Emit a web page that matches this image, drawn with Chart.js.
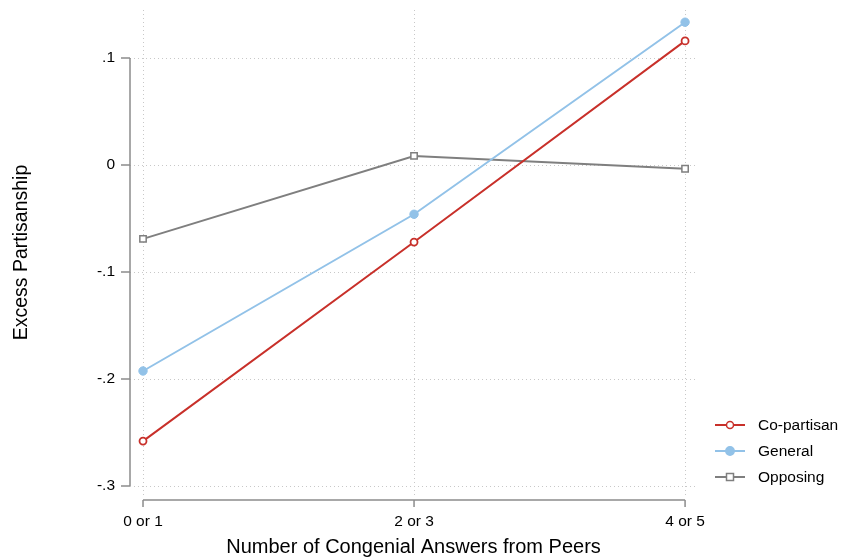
<!DOCTYPE html>
<html><head><meta charset="utf-8">
<script src="https://cdn.jsdelivr.net/npm/chart.js@4.4.1/dist/chart.umd.min.js"></script>
<style>html,body{margin:0;padding:0;background:#fff}#wrap{width:846px;height:558px}</style>
</head><body><div id="wrap"><canvas id="c" width="846" height="558"></canvas></div>
<script>
const categories = ["0 or 1", "2 or 3", "4 or 5"];
const coPartisan = [-0.258, -0.072, 0.116];
const general = [-0.1925, -0.046, 0.1335];
const opposing = [-0.069, 0.0085, -0.0035];
const yTicks = [0.1, 0, -0.1, -0.2, -0.3];
const yTickLabels = [".1", "0", "-.1", "-.2", "-.3"];
const seriesNames = ["Co-partisan", "General", "Opposing"];

const FONT = "'Liberation Sans', Arial, Helvetica, sans-serif";
const RED = '#c8302a', BLUE = '#92c2e8', GRAY = '#7f7f7f';

const toPts = arr => arr.map((v, i) => ({x: i, y: v}));

const axesPlugin = {
  id: 'stataAxes',
  afterDraw(chart) {
    const ctx = chart.ctx, xs = chart.scales.x, ys = chart.scales.y;
    ctx.save();
    ctx.strokeStyle = '#8c8c8c'; ctx.lineWidth = 1.5;
    const ax = chart.chartArea.left;
    ctx.beginPath();
    ctx.moveTo(ax, ys.getPixelForValue(yTicks[0]));
    ctx.lineTo(ax, ys.getPixelForValue(yTicks[yTicks.length-1]));
    yTicks.forEach(t => { const p = ys.getPixelForValue(t); ctx.moveTo(ax - 9, p); ctx.lineTo(ax, p); });
    const ay = chart.chartArea.bottom + 5;
    ctx.moveTo(xs.getPixelForValue(0), ay);
    ctx.lineTo(xs.getPixelForValue(categories.length-1), ay);
    categories.forEach((c, i) => { const p = xs.getPixelForValue(i); ctx.moveTo(p, ay); ctx.lineTo(p, ay + 7); });
    ctx.stroke();
    // legend
    const ds = chart.data.datasets;
    const lx = 715, ly0 = 425, dy = 26;
    ds.forEach((d, i) => {
      const y = ly0 + i * dy;
      ctx.strokeStyle = d.borderColor; ctx.lineWidth = 2;
      ctx.beginPath(); ctx.moveTo(lx, y); ctx.lineTo(lx + 30, y); ctx.stroke();
      const cx = lx + 15;
      ctx.lineWidth = 1.5;
      if (d.pointStyle === 'rect') {
        ctx.fillStyle = '#fff'; ctx.fillRect(cx - 3.5, y - 3.5, 7, 7);
        ctx.strokeStyle = d.pointBorderColor; ctx.strokeRect(cx - 3.5, y - 3.5, 7, 7);
      } else {
        ctx.beginPath(); ctx.arc(cx, y, d.pointRadius, 0, Math.PI * 2);
        ctx.fillStyle = d.pointBackgroundColor; ctx.fill();
        ctx.strokeStyle = d.pointBorderColor; ctx.stroke();
      }
      ctx.fillStyle = '#000'; ctx.font = '15.5px ' + FONT;
      ctx.textAlign = 'left'; ctx.textBaseline = 'middle';
      ctx.fillText(d.label, 758, y + 1);
    });
    ctx.restore();
  }
};

new Chart(document.getElementById('c'), {
  type: 'line',
  data: {
    datasets: [
      {label: seriesNames[0], data: toPts(coPartisan), borderColor: RED, borderWidth: 2,
       pointStyle: 'circle', pointRadius: 3.5, pointBorderWidth: 1.8, pointBackgroundColor: '#fff', pointBorderColor: RED},
      {label: seriesNames[1], data: toPts(general), borderColor: BLUE, borderWidth: 2,
       pointStyle: 'circle', pointRadius: 4.2, pointBorderWidth: 1, pointBackgroundColor: BLUE, pointBorderColor: BLUE},
      {label: seriesNames[2], data: toPts(opposing), borderColor: GRAY, borderWidth: 2,
       pointStyle: 'rect', pointRadius: 4.5, pointBorderWidth: 1.5, pointBackgroundColor: '#fff', pointBorderColor: GRAY}
    ]
  },
  options: {
    responsive: false, animation: false,
    layout: {padding: {top: 10, right: 149, left: 0, bottom: 0}},
    plugins: {legend: {display: false}, tooltip: {enabled: false}},
    scales: {
      x: {
        type: 'linear', min: -0.048, max: 2.044,
        afterFit(s) { s.height = 63; s.paddingLeft = 0; s.paddingRight = 0; },
        afterBuildTicks(s) { s.ticks = categories.map((c, i) => ({value: i})); },
        ticks: {callback: (v) => categories[v], font: {family: FONT, size: 15.5}, color: '#000', padding: 17, maxRotation: 0},
        grid: {drawTicks: false, color: '#c8c8c8', lineWidth: 1},
        border: {display: false, dash: [1, 3]},
        title: {display: true, text: 'Number of Congenial Answers from Peers', font: {family: FONT, size: 20}, color: '#000', padding: {top: 0, bottom: -1}}
      },
      y: {
        type: 'linear', min: -0.3084, max: 0.1449,
        afterFit(s) { s.width = 130; s.paddingTop = 0; s.paddingBottom = 0; },
        afterBuildTicks(s) { s.ticks = yTicks.map(v => ({value: v})); },
        ticks: {callback: (v) => yTickLabels[yTicks.findIndex(t => Math.abs(t - v) < 1e-9)], font: {family: FONT, size: 15.5}, color: '#000', padding: 15},
        grid: {drawTicks: false, color: '#c8c8c8', lineWidth: 1},
        border: {display: false, dash: [1, 3]},
        title: {display: true, text: 'Excess Partisanship', font: {family: FONT, size: 19.5}, color: '#000', padding: {top: 10, bottom: 0}}
      }
    }
  },
  plugins: [axesPlugin]
});
</script></body></html>
